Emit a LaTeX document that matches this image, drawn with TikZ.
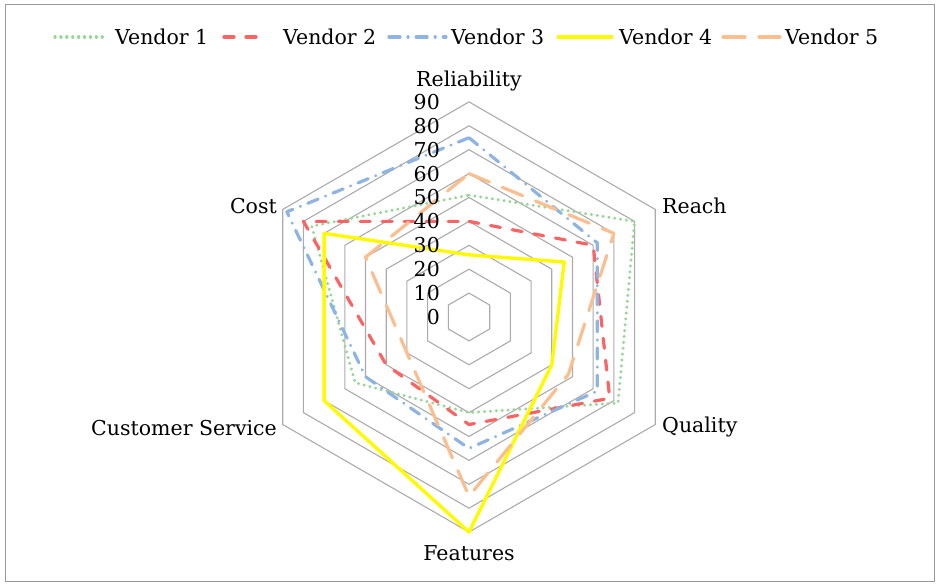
\documentclass[tikz,border=0pt]{standalone}
\usepackage{fontspec}
\setmainfont{DejaVu Serif}
\definecolor{vgreen}{RGB}{150,214,150}
\definecolor{vred}{RGB}{250,100,100}
\definecolor{vblue}{RGB}{141,180,226}
\definecolor{vyellow}{RGB}{255,250,0}
\definecolor{vorange}{RGB}{250,190,143}
\begin{document}
\begin{tikzpicture}[x=1pt, y=1pt]
    \tikzstyle{every node} = [font=\fontsize{20.5}{24}\selectfont, inner sep=0pt]
    \tikzstyle{frame} = [draw=black!40, line width=1.8pt]
    \tikzstyle{ring} = [draw=black!33, line width=1.1pt]
    \tikzstyle{series} = [line width=3.2pt, line join=round, line cap=round]
    \tikzstyle{vendor1} = [series, draw=vgreen, dash pattern=on 0.1pt off 5.8pt]
    \tikzstyle{vendor2} = [series, draw=vred, dash pattern=on 10pt off 12pt]
    \tikzstyle{vendor3} = [series, draw=vblue, dash pattern=on 11pt off 8pt on 0.1pt off 8pt]
    \tikzstyle{vendor4} = [series, draw=vyellow, line width=3.4pt, line cap=butt]
    \tikzstyle{vendor5} = [series, draw=vorange, dash pattern=on 22pt off 14pt]
    \useasboundingbox (0,0) rectangle (940,588);
    \draw[frame] (5.5,6.5) rectangle (934.5,583.5);
    % legend
    \draw[vendor1] (55,551) -- (107,551);
    \node[anchor=west] (leg1) at (115,551) {Vendor 1};
    \draw[vendor2] (224,551) -- (265,551);
    \node[anchor=west] (leg2) at (283,551) {Vendor 2};
    \draw[vendor3] (389,551) -- (446,551);
    \node[anchor=west] (leg3) at (451,551) {Vendor 3};
    \draw[vendor4] (557,551) -- (613,551);
    \node[anchor=west] (leg4) at (619,551) {Vendor 4};
    \draw[vendor5] (723,551) -- (780,551);
    \node[anchor=west] (leg5) at (785,551) {Vendor 5};
    % radar
    \begin{scope}[shift={(469,271)}, x=2.39pt, y=2.39pt]
        \foreach \r in {10,20,...,90}
            \draw[ring] (90:\r) -- (30:\r) -- (-30:\r) -- (-90:\r) -- (210:\r) -- (150:\r) -- cycle;
        \draw[vendor1] (90:51) -- (30:80) -- (-30:72) -- (-90:40) -- (210:55) -- (150:76) -- cycle;
        \draw[vendor2] (90:40) -- (30:60) -- (-30:68) -- (-90:45) -- (210:40) -- (150:80) -- cycle;
        \draw[vendor3] (90:75) -- (30:62) -- (-30:62) -- (-90:55) -- (210:50) -- (150:88) -- cycle;
        \draw[vendor4] (90:26) -- (30:46) -- (-30:40) -- (-90:90) -- (210:70) -- (150:70) -- cycle;
        \draw[vendor5] (90:60) -- (30:70) -- (-30:48) -- (-90:75) -- (210:30) -- (150:50) -- cycle;
    \end{scope}
    % scale and categories
    \foreach \v in {0,10,...,90}
        \node[anchor=east] (tick\v) at (440,{271+2.39*\v}) {\v};
    \node (reliability) at (469,507) {Reliability};
    \node[anchor=west] (reach) at (662,382) {Reach};
    \node[anchor=west] (quality) at (662,161) {Quality};
    \node (features) at (469,35) {Features};
    \node[anchor=east] (service) at (277,160) {Customer Service};
    \node[anchor=east] (cost) at (277,382) {Cost};
\end{tikzpicture}
\end{document}
